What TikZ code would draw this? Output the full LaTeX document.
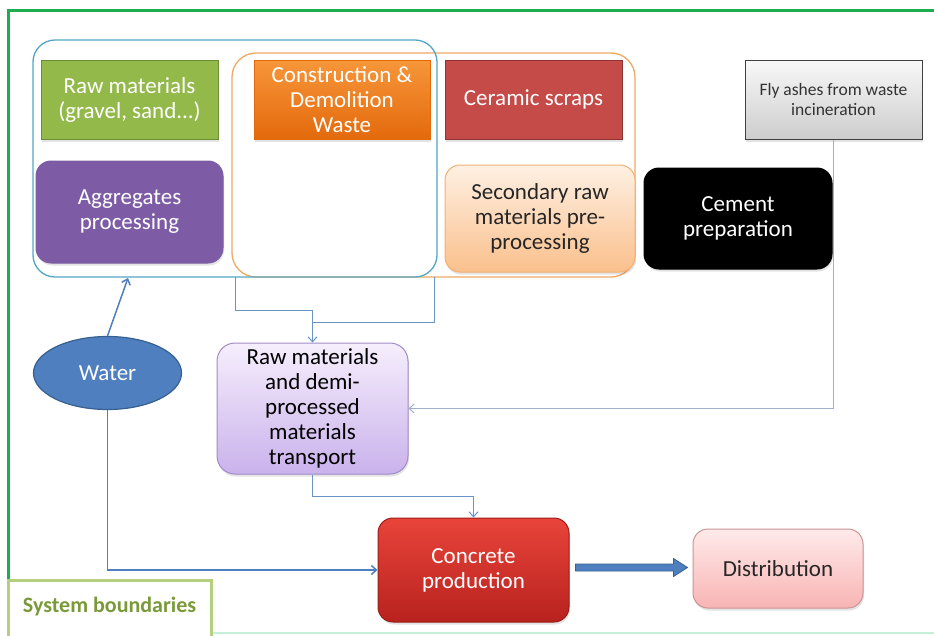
\documentclass[tikz,border=0pt]{standalone}
\usepackage{fontspec}
\setmainfont{Carlito}
\usetikzlibrary{shapes.geometric,arrows.meta,calc,shadows}

\definecolor{frameGreen}{HTML}{1FAE4F}
\definecolor{mint}{HTML}{C4F0DA}
\definecolor{rawGreen}{HTML}{93B94A}
\definecolor{rawGreenD}{HTML}{6E8C36}
\definecolor{cdwTop}{HTML}{F7963A}
\definecolor{cdwBot}{HTML}{E36A0C}
\definecolor{ceramic}{HTML}{C44B48}
\definecolor{ceramicD}{HTML}{8C3533}
\definecolor{aggPurple}{HTML}{7D5CA5}
\definecolor{secTop}{HTML}{FEF0E3}
\definecolor{secBot}{HTML}{FAC08C}
\definecolor{secBorder}{HTML}{F4B070}
\definecolor{flyTop}{HTML}{F8F8F8}
\definecolor{flyBot}{HTML}{CDCDCD}
\definecolor{waterBlue}{HTML}{4F7FBE}
\definecolor{waterD}{HTML}{36608F}
\definecolor{transTop}{HTML}{F6EEFC}
\definecolor{transBot}{HTML}{CAB2EC}
\definecolor{transBorder}{HTML}{A08CC8}
\definecolor{concTop}{HTML}{E8443A}
\definecolor{concBot}{HTML}{B8221E}
\definecolor{distTop}{HTML}{FFEAEA}
\definecolor{distBot}{HTML}{F8B4B4}
\definecolor{distBorder}{HTML}{C99595}
\definecolor{blueCont}{HTML}{54A6C6}
\definecolor{orangeCont}{HTML}{EFA865}
\definecolor{linkBlue}{HTML}{6A93C6}
\definecolor{linkGray}{HTML}{9FB0C8}
\definecolor{sysBorder}{HTML}{B4CF7E}
\definecolor{sysText}{HTML}{7A9A3A}

\tikzset{
  bigtext/.style={font=\fontsize{23}{25}\selectfont, align=center},
  softshadow/.style={drop shadow={opacity=0.22, shadow xshift=1pt, shadow yshift=-2.5pt}},
  sqbox/.style={rectangle, bigtext, inner sep=2pt, line width=1pt, softshadow},
  rbox/.style={rectangle, rounded corners=15pt, bigtext, inner sep=2pt, line width=1pt, softshadow},
  container/.style={rounded corners=24pt, line width=1.3pt},
  link/.style={draw=linkBlue, line width=1pt},
  linktip/.style={-{Straight Barb[length=5pt,width=9pt]}},
}

\begin{document}
\begin{tikzpicture}[x=1pt, y=-1pt]
  \useasboundingbox (0,0) rectangle (934,635);
  \fill[white] (0,0) rectangle (934,635);

  % outer system frame
  \draw[frameGreen, line width=3pt] (8,636) -- (8,10) -- (936,10);
  \draw[mint, line width=2pt] (8,633) -- (936,633);

  % grouping containers
  \draw[container, draw=orangeCont] (232,53) rectangle (635,277);
  \draw[container, draw=blueCont, rounded corners=22pt] (33,40) rectangle (437,277);

  % top row inputs
  \node[sqbox, fill=rawGreen, draw=rawGreenD, text=white, minimum width=177pt, minimum height=79pt]
    (raw) at (129.5,99.5) {Raw materials\\(gravel, sand...)};
  \node[sqbox, top color=cdwTop, bottom color=cdwBot, draw=cdwBot, text=white, minimum width=176pt, minimum height=79pt]
    (cdw) at (342,99.5) {Construction \&\\Demolition\\Waste};
  \node[sqbox, fill=ceramic, draw=ceramicD, text=white, minimum width=177pt, minimum height=79pt]
    (cer) at (533.5,99.5) {Ceramic scraps};
  \node[sqbox, top color=flyTop, bottom color=flyBot, draw=black!75, text=black!80, minimum width=177pt, minimum height=79pt,
        font=\fontsize{17.5}{20}\selectfont]
    (fly) at (833.5,99.5) {Fly ashes from waste\\incineration};

  % processing row
  \node[rbox, fill=aggPurple, draw=aggPurple, text=white, minimum width=187pt, minimum height=102pt]
    (agg) at (129.5,212) {Aggregates\\processing};
  \node[rbox, top color=secTop, bottom color=secBot, draw=secBorder, text=black!85, minimum width=190pt, minimum height=107pt]
    (sec) at (540,218.5) {Secondary raw\\materials pre-\\processing};
  \node[rbox, fill=black, draw=black, text=white, minimum width=188pt, minimum height=101pt]
    (cem) at (738,218.5) {Cement\\preparation};

  % water, transport, production, distribution
  \node[ellipse, fill=waterBlue, draw=waterD, line width=1.2pt, text=white, bigtext,
        minimum width=148pt, minimum height=73pt, inner sep=0pt]
    (water) at (107.5,373) {Water};
  \node[rbox, rounded corners=18pt, top color=transTop, bottom color=transBot, draw=transBorder, text=black,
        minimum width=191pt, minimum height=131pt]
    (trans) at (312.5,408.5) {Raw materials\\and demi-\\processed\\materials\\transport};
  \node[rbox, top color=concTop, bottom color=concBot, draw=concBot!85!black, text=white,
        minimum width=191pt, minimum height=104pt]
    (conc) at (473.5,570) {Concrete\\production};
  \node[rbox, top color=distTop, bottom color=distBot, draw=distBorder, text=black!85,
        minimum width=170pt, minimum height=79pt]
    (dist) at (778,568.5) {Distribution};

  % system boundaries label
  \draw[sysBorder, line width=3pt, fill=white] (8,640) -- (8,580) -- (211,580) -- (211,640);
  \node[font=\fontsize{22}{24}\selectfont\bfseries, text=sysText] (sys) at (109.5,607) {System boundaries};

  % connector end points on the container bottoms
  \coordinate (aggin) at (128,278);
  \coordinate (bl) at (235,277);
  \coordinate (or) at (434,277);

  % connectors
  \draw[link, line width=1.5pt, draw=waterBlue, linktip] (water.north) -- (aggin);
  \draw[link, linktip] (bl) -- ++(0,33) -| (trans.north);
  \draw[link] (or) |- ($(trans.north)+(0,-20)$);
  \draw[link, draw=linkGray, linktip] (fly.south) |- (trans.east);
  \draw[link, linktip] (trans.south) -- ++(0,22) -| (conc.north);
  \draw[link, line width=1.5pt, draw=waterBlue, linktip] (water.south) |- (conc.west);

  % block arrow from production to distribution
  \coordinate (bs) at ($(conc.east)+(6,-2.5)$);
  \coordinate (be) at ($(dist.west |- bs)+(-5,0)$);
  \filldraw[fill=waterBlue, draw=waterD, line width=0.8pt, line join=miter]
    ($(bs)+(0,-3.5)$) -- ($(be)+(-14,-3.5)$) -- ($(be)+(-14,-9)$) -- (be)
    -- ($(be)+(-14,9)$) -- ($(be)+(-14,3.5)$) -- ($(bs)+(0,3.5)$) -- cycle;
\end{tikzpicture}
\end{document}
